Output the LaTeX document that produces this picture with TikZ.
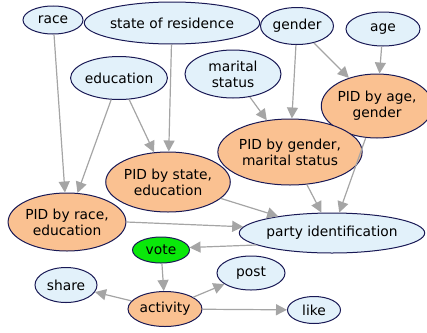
\documentclass[tikz,border=0pt]{standalone}
\usepackage{fontspec}
\setmainfont{DejaVu Sans}
\usetikzlibrary{shapes.geometric,arrows.meta}
\definecolor{bluefill}{RGB}{226,241,250}
\definecolor{orfill}{RGB}{250,193,145}
\definecolor{grfill}{RGB}{10,232,10}
\definecolor{bord}{RGB}{25,25,85}
\definecolor{edgec}{RGB}{165,165,165}
\tikzset{
  nd/.style={ellipse,draw=bord,line width=1pt,inner sep=0pt,align=center,
    font=\fontsize{13.8}{16}\selectfont},
  bl/.style={nd,fill=bluefill},
  ob/.style={nd,fill=orfill},
  gn/.style={nd,fill=grfill},
  ed/.style={draw=edgec,line width=1.2pt,-{Triangle[length=11pt,width=11pt]}},
}
\begin{document}
\begin{tikzpicture}[x=1pt,y=-1pt]
\useasboundingbox (0,0) rectangle (427,332);
\node[bl,minimum width=60pt,minimum height=28pt] (race) at (53,20) {race};
\node[bl,minimum width=149pt,minimum height=42pt] (state) at (172,23) {state of residence};
\node[bl,minimum width=73pt,minimum height=37pt] (gender) at (297,26) {gender};
\node[bl,minimum width=74pt,minimum height=34pt] (age) at (383,29) {age};
\node[bl,minimum width=88pt,minimum height=43pt] (edu) at (119,78) {education};
\node[bl,minimum width=96pt,minimum height=48pt] (mar) at (233,74) {marital\\status};
\node[ob,minimum width=98pt,minimum height=64pt] (pag) at (377,106) {PID by age,\\gender};
\node[ob,minimum width=129pt,minimum height=66pt] (pgm) at (290,152) {PID by gender,\\marital status};
\node[ob,minimum width=119pt,minimum height=60pt] (pse) at (168,182) {PID by state,\\education};
\node[ob,minimum width=116pt,minimum height=58pt] (pre) at (67,222) {PID by race,\\education};
\node[bl,minimum width=163pt,minimum height=40pt] (pid) at (332,233) {party identification};
\node[gn,minimum width=57pt,minimum height=26pt] (vote) at (161,250) {vote};
\node[bl,minimum width=62pt,minimum height=35pt] (share) at (66,285) {share};
\node[ob,minimum width=74pt,minimum height=35pt] (act) at (165,309) {activity};
\node[bl,minimum width=68pt,minimum height=34pt] (post) at (251,273) {post};
\node[bl,minimum width=53pt,minimum height=27pt] (like) at (314,310) {like};
\draw[ed] (race) -- (pre);
\draw[ed] (edu) -- (pre);
\draw[ed] (edu) -- (pse);
\draw[ed] (state) -- (pse);
\draw[ed] (mar) -- (pgm);
\draw[ed] (gender) -- (pgm);
\draw[ed] (gender) -- (pag);
\draw[ed] (age) -- (pag);
\draw[ed] (pgm) -- (pid);
\draw[ed] (pag) -- (pid);
\draw[ed] (pse) -- (pid);
\draw[ed] (pre.east) -- (pid.176);
\draw[ed] (pid.189) -- (vote.5);
\draw[ed] (vote) -- (act);
\draw[ed] (act) -- (share);
\draw[ed] (act) -- (post);
\draw[ed] (act) -- (like);
\end{tikzpicture}
\end{document}
